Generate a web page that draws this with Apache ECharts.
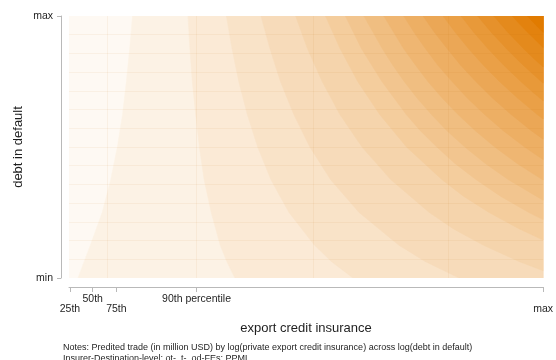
<!DOCTYPE html>
<html>
<head>
<meta charset="utf-8">
<script src="https://cdn.jsdelivr.net/npm/echarts@6/dist/echarts.min.js"></script>
<style>
  html, body { margin: 0; padding: 0; background: #ffffff; }
  #chart { width: 556px; height: 360px; }
</style>
</head>
<body>
<div id="chart"></div>
<script>
// Axis ticks (export credit insurance percentiles, debt in default range)
const xTickValues = [0.2, 5.0, 10.0, 26.9, 100];
const xTickLabels = ['25th', '50th', '75th', '90th percentile', 'max'];
const yTickValues = [0, 100];
const yTickLabels = ['min', 'max'];

// Contour lines of predicted trade, lowest level first.
// Each line runs from the top edge to where it leaves the plot: [insurance, debt].
const contourLines = [
  [[13.4,100],[12.8,87.5],[12.1,75],[11.3,62.5],[10.2,50],[8.8,37.5],[7.0,25],[4.5,12.5],[1.9,0]],
  [[25.1,100],[25.5,87.5],[26.0,75],[26.7,62.5],[27.5,50],[28.5,37.5],[30.0,25],[31.9,12.5],[33.3,6.25],[35.0,0]],
  [[33.2,100],[34.4,87.5],[35.8,75],[37.6,62.5],[39.8,50],[42.6,37.5],[46.4,25],[51.8,12.5],[55.4,6.25],[59.9,0]],
  [[40.5,100],[42.4,87.5],[44.6,75],[47.4,62.5],[50.8,50],[55.2,37.5],[61.2,25],[69.6,12.5],[75.2,6.25],[82.3,0]],
  [[47.8,100],[50.3,87.5],[53.4,75],[57.1,62.5],[61.8,50],[67.9,37.5],[76.0,25],[81.1,18.75],[87.4,12.5],[95.0,6.25],[100,2.8]],
  [[54.1,100],[57.2,87.5],[60.9,75],[65.5,62.5],[71.2,50],[78.7,37.5],[83.2,31.25],[88.6,25],[95.0,18.75],[100,14.5]],
  [[58.3,100],[61.7,87.5],[66.0,75],[71.1,62.5],[74.1,56.25],[77.6,50],[81.4,43.75],[85.9,37.5],[91.0,31.25],[97.0,25],[100,22.3]],
  [[62.2,100],[66.1,87.5],[68.3,81.25],[70.7,75],[73.4,68.75],[76.4,62.5],[79.7,56.25],[83.5,50],[87.8,43.75],[92.7,37.5],[100,29.7]],
  [[66.4,100],[70.6,87.5],[73.1,81.25],[75.7,75],[78.7,68.75],[82.0,62.5],[85.7,56.25],[89.8,50],[94.5,43.75],[100,37.4]],
  [[70.6,100],[72.8,93.75],[75.2,87.5],[77.8,81.25],[80.8,75],[84.0,68.75],[87.6,62.5],[91.6,56.25],[96.1,50],[100,45.2]],
  [[74.7,100],[77.1,93.75],[79.8,87.5],[82.6,81.25],[85.8,75],[89.3,68.75],[93.2,62.5],[97.5,56.25],[100,53.0]],
  [[78.9,100],[81.5,93.75],[84.3,87.5],[87.4,81.25],[90.8,75],[94.6,68.75],[98.7,62.5],[100,60.7]],
  [[82.7,100],[85.4,93.75],[88.4,87.5],[91.7,81.25],[95.3,75],[97.8,71],[100,67.7]],
  [[86.2,100],[89.1,93.75],[92.3,87.5],[95.8,81.25],[99.6,75],[100,74.4]],
  [[89.6,100],[92.6,93.75],[95.9,87.5],[97.9,84],[100,80.6]],
  [[93.5,100],[95.0,97],[96.6,94],[98.3,91],[100,88.0]],
  [[96.7,100],[97.7,98],[98.8,96],[100,93.8]]
];

const noteLines = [
  'Notes: Predited trade (in million USD) by log(private export credit insurance) across log(debt in default)',
  'Insurer-Destination-level; ot-, t-, od-FEs; PPML'
];

// ---- styling ----
const FONT = '"Liberation Sans", Arial, Helvetica, sans-serif';
const TEXT = '#1e1e1e';
const AXIS = '#b9b9b9';
const LOW_COLOR = [254, 249, 243];
const HIGH_COLOR = [225, 123, 0];
// faint seams of the filled surface
const seamX = [8.14, 26.93, 51.57, 79.96];
const seamY = Array.from({ length: 13 }, (_, k) => (k + 1) * 100 / 14);

const X_MIN = 0, X_MAX = 100, Y_MIN = 0, Y_MAX = 100;
const nBands = contourLines.length + 1;

function bandColor(i) {
  const t = i / (nBands - 1);
  const c = LOW_COLOR.map((v, j) => Math.round(v + (HIGH_COLOR[j] - v) * t));
  return 'rgb(' + c.join(',') + ')';
}

// Super-level regions: the whole plot, then the area beyond each contour line.
const regions = [[[X_MIN, Y_MIN], [X_MIN, Y_MAX], [X_MAX, Y_MAX], [X_MAX, Y_MIN]]];
contourLines.forEach(line => {
  const poly = line.slice();
  const last = line[line.length - 1];
  if (last[1] === Y_MIN) poly.push([X_MAX, Y_MIN]);
  poly.push([X_MAX, Y_MAX]);
  regions.push(poly);
});

const chart = echarts.init(document.getElementById('chart'), null, { renderer: 'canvas' });

chart.setOption({
  animation: false,
  backgroundColor: '#ffffff',
  grid: { left: 69, right: 8, top: 16, bottom: 82 },
  xAxis: {
    type: 'value', min: X_MIN, max: X_MAX, offset: 9,
    axisLine: { show: true, onZero: false, lineStyle: { color: AXIS, width: 1 } },
    axisTick: { show: true, length: 5, customValues: xTickValues, lineStyle: { color: AXIS } },
    axisLabel: {
      customValues: xTickValues,
      formatter: function (v) {
        const i = xTickValues.indexOf(v);
        const s = xTickLabels[i];
        return i % 2 === 0 ? '\n' + s : s;
      },
      fontSize: 10.5, lineHeight: 10, color: TEXT, fontFamily: FONT, margin: 7
    },
    splitLine: { show: false },
    name: 'export credit insurance', nameLocation: 'middle', nameGap: 35,
    nameTextStyle: { fontSize: 13, color: TEXT, fontFamily: FONT }
  },
  yAxis: {
    type: 'value', min: Y_MIN, max: Y_MAX, offset: 8,
    axisLine: { show: true, onZero: false, lineStyle: { color: AXIS, width: 1 } },
    axisTick: { show: true, length: 4, customValues: yTickValues, lineStyle: { color: AXIS } },
    axisLabel: {
      customValues: yTickValues,
      formatter: function (v) { return yTickLabels[yTickValues.indexOf(v)]; },
      fontSize: 10.5, color: TEXT, fontFamily: FONT, margin: 8
    },
    splitLine: { show: false },
    name: 'debt in default', nameLocation: 'middle', nameGap: 36, nameRotate: 90,
    nameMoveOverlap: false,
    nameTextStyle: { fontSize: 13, color: TEXT, fontFamily: FONT }
  },
  graphic: [{
    type: 'text', left: 63, top: 342, silent: true,
    style: { text: noteLines.join('\n'), fontSize: 9, lineHeight: 11, fill: TEXT, fontFamily: FONT }
  }],
  series: [{
    type: 'custom',
    coordinateSystem: 'cartesian2d',
    clip: true,
    silent: true,
    data: regions.map((r, i) => [i]),
    encode: { x: 0 },
    renderItem: function (params, api) {
      const k = params.dataIndex;
      const pts = regions[k].map(p => api.coord(p));
      return {
        type: 'polygon',
        shape: { points: pts },
        style: { fill: bandColor(k), stroke: bandColor(k), lineWidth: 0.5 }
      };
    },
    markLine: {
      silent: true, symbol: 'none', label: { show: false },
      lineStyle: { color: 'rgba(190,95,0,0.06)', width: 1, type: 'solid' },
      data: seamX.map(v => ({ xAxis: v })).concat(seamY.map(v => ({ yAxis: v })))
    }
  }]
});
</script>
</body>
</html>
